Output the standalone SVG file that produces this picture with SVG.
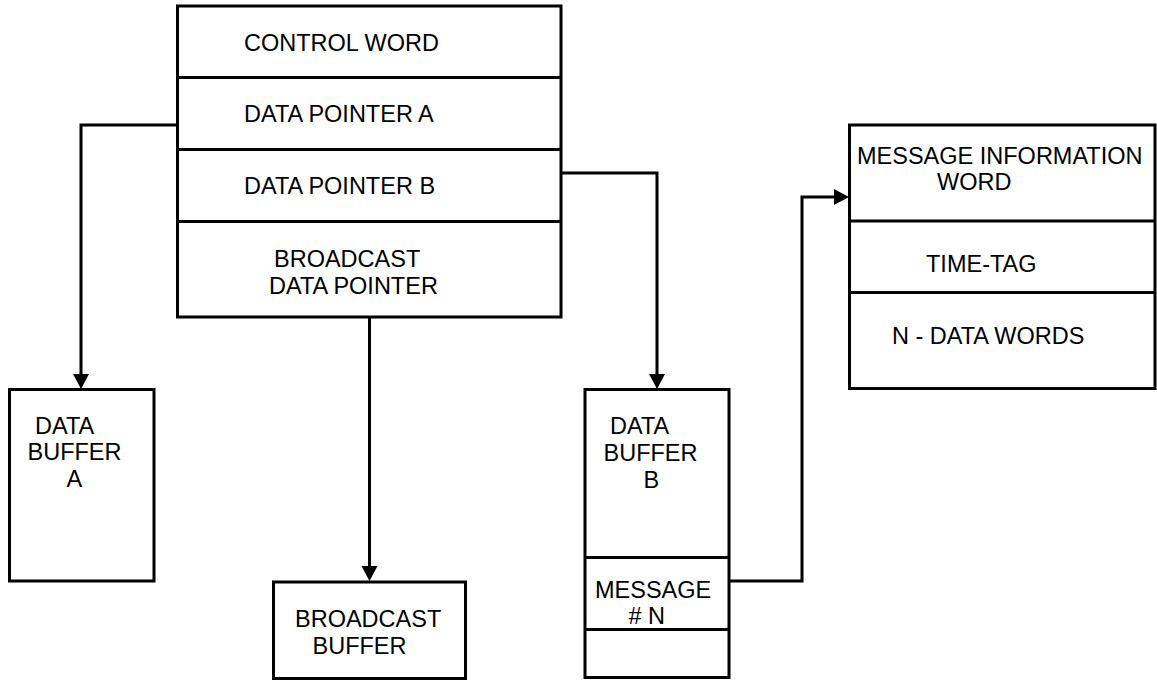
<svg xmlns="http://www.w3.org/2000/svg" width="1157" height="681" viewBox="0 0 1157 681">
  <style>
    .box { fill: #ffffff; stroke: #000000; stroke-width: 3; }
    .div { stroke: #000000; stroke-width: 3; fill: none; }
    .conn { stroke: #000000; stroke-width: 3; fill: none; }
    text { font-family: "Liberation Sans", Arial, sans-serif; font-size: 23.5px; fill: #000000; }
  </style>
  <defs>
    <marker id="arrow" markerUnits="userSpaceOnUse" markerWidth="16" markerHeight="16" refX="5" refY="8" orient="auto" overflow="visible">
      <path d="M0,0 L15,8 L0,16 Z" fill="#000000"/>
    </marker>
  </defs>

  <rect width="1157" height="681" fill="#ffffff"/>

  <g id="connectors">
    <path class="conn" d="M177,125 H81 V379" marker-end="url(#arrow)"/>
    <path class="conn" d="M369.5,317 V571" marker-end="url(#arrow)"/>
    <path class="conn" d="M561,173 H657 V379" marker-end="url(#arrow)"/>
    <path class="conn" d="M729,581 H802 V197 H839" marker-end="url(#arrow)"/>
  </g>

  <g id="descriptor-block">
    <rect class="box" x="177.5" y="6" width="383.5" height="311"/>
    <line class="div" x1="177.5" y1="77.5" x2="561" y2="77.5"/>
    <line class="div" x1="177.5" y1="149.5" x2="561" y2="149.5"/>
    <line class="div" x1="177.5" y1="221.5" x2="561" y2="221.5"/>
    <text x="244" y="51">CONTROL WORD</text>
    <text x="244" y="122">DATA POINTER A</text>
    <text x="244" y="193.5">DATA POINTER B</text>
    <text x="274" y="267">BROADCAST</text>
    <text x="269" y="293.5">DATA POINTER</text>
  </g>

  <g id="data-buffer-a">
    <rect class="box" x="9.5" y="389.5" width="144.5" height="191.5"/>
    <text x="35" y="433.5">DATA</text>
    <text x="27.5" y="460">BUFFER</text>
    <text x="66.5" y="486.5">A</text>
  </g>

  <g id="broadcast-buffer">
    <rect class="box" x="273.5" y="582" width="192" height="96.5"/>
    <text x="295" y="627">BROADCAST</text>
    <text x="312.5" y="653.5">BUFFER</text>
  </g>

  <g id="data-buffer-b">
    <rect class="box" x="585" y="389.5" width="144" height="288"/>
    <line class="div" x1="585" y1="557.5" x2="729" y2="557.5"/>
    <line class="div" x1="585" y1="629.5" x2="729" y2="629.5"/>
    <text x="610" y="434">DATA</text>
    <text x="603.5" y="460.5">BUFFER</text>
    <text x="643.5" y="487.5">B</text>
    <text x="595" y="597.5">MESSAGE</text>
    <text x="628.5" y="624">#&#160;N</text>
  </g>

  <g id="message-block">
    <rect class="box" x="849.5" y="125" width="305.5" height="263.5"/>
    <line class="div" x1="849.5" y1="221" x2="1155" y2="221"/>
    <line class="div" x1="849.5" y1="292.5" x2="1155" y2="292.5"/>
    <text x="857" y="164">MESSAGE INFORMATION</text>
    <text x="937" y="190">WORD</text>
    <text x="926" y="271.5">TIME-TAG</text>
    <text x="892" y="343.5">N - DATA WORDS</text>
  </g>
</svg>
